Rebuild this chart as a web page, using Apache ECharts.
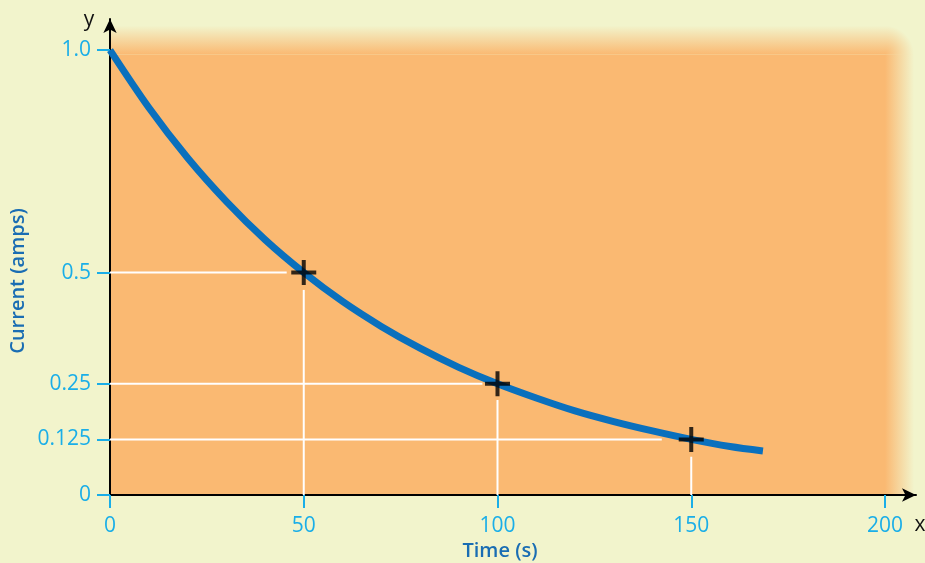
<!DOCTYPE html>
<html>
<head>
<meta charset="utf-8">
<title>Current decay</title>
<script src="https://cdn.jsdelivr.net/npm/echarts@6/dist/echarts.min.js"></script>
<style>
  html, body { margin: 0; padding: 0; background: #f2f4cc; }
  #chart { width: 925px; height: 563px; }
</style>
</head>
<body>
<div id="chart"></div>
<script>
// Discharge current over time (halves every 50 s)
const timeSec = [0, 10, 20, 30, 40, 50, 60, 70, 80, 90, 100, 110, 120, 130, 140, 150, 160, 168.5];
const currentAmps = [1.0, 0.871, 0.758, 0.66, 0.574, 0.5, 0.435, 0.379, 0.33, 0.287, 0.25, 0.218, 0.189, 0.165, 0.144, 0.125, 0.109, 0.099];

// Half-life markers
const markTime = [50, 100, 150];
const markCurrent = [0.5, 0.25, 0.125];
// Where the white guides stop short of each marker
const guideXEnd = [45.6, 96.1, 142.4];
const guideYStart = [0.461, 0.2135, 0.086];

// Axis ticks
const xTicks = [0, 50, 100, 150, 200];
const yTicks = [0, 0.125, 0.25, 0.5, 1.0];
const yTickLabels = ['0', '0.125', '0.25', '0.5', '1.0'];

const BG = '#f2f4cc';
const ORANGE = '#fab972';
const ORANGE_CLEAR = 'rgba(250,185,114,0)';
const TICK_BLUE = '#1aaee8';
const NAME_BLUE = '#1a6db3';
const CURVE_BLUE = '#0a70bd';
const FONT = '"Open Sans", "Noto Sans", sans-serif';

const chart = echarts.init(document.getElementById('chart'), null, { renderer: 'canvas' });

const guideStyle = { color: '#ffffff', width: 2 };
const guideSeries = [];
markTime.forEach((t, i) => {
  guideSeries.push({
    type: 'line', z: 4, silent: true, symbol: 'none',
    lineStyle: guideStyle,
    data: [[0, markCurrent[i]], [guideXEnd[i], markCurrent[i]]]
  });
  guideSeries.push({
    type: 'line', z: 4, silent: true, symbol: 'none',
    lineStyle: guideStyle,
    data: [[t, 0], [t, guideYStart[i]]]
  });
});

const option = {
  backgroundColor: BG,
  animation: false,
  grid: { left: 110, right: 9, top: 19, bottom: 68, containLabel: false },
  xAxis: {
    type: 'value', min: 0, max: 208, z: 3,
    axisLine: {
      show: true, onZero: false,
      symbol: ['none', 'arrow'], symbolSize: [10, 14],
      lineStyle: { color: '#000', width: 2 }
    },
    axisTick: { show: true, length: 13, customValues: xTicks, lineStyle: { color: TICK_BLUE, width: 2 } },
    axisLabel: {
      customValues: xTicks, margin: 21,
      color: TICK_BLUE, fontFamily: FONT, fontSize: 21
    },
    splitLine: { show: false }
  },
  yAxis: {
    type: 'value', min: 0, max: 1.07, z: 3,
    axisLine: {
      show: true, onZero: false,
      symbol: ['none', 'arrow'], symbolSize: [10, 14],
      lineStyle: { color: '#000', width: 2 }
    },
    axisTick: { show: true, length: 13, customValues: yTicks, lineStyle: { color: TICK_BLUE, width: 2 } },
    axisLabel: {
      customValues: yTicks, margin: 19,
      color: TICK_BLUE, fontFamily: FONT, fontSize: 21,
      formatter: v => {
        const k = yTicks.indexOf(v);
        return k >= 0 ? yTickLabels[k] : '';
      }
    },
    splitLine: { show: false }
  },
  series: [
    // Orange panel with soft top and right edges
    {
      type: 'line', z: 1, silent: true, symbol: 'none',
      lineStyle: { opacity: 0 },
      data: [[0, 0]],
      markArea: {
        silent: true,
        label: { show: false },
        data: [
          [{ xAxis: 0, yAxis: 0, itemStyle: { color: ORANGE } }, { xAxis: 200, yAxis: 0.99 }],
          [{ xAxis: 0, yAxis: 0.99, itemStyle: { color: {
              type: 'linear', x: 0, y: 0, x2: 0, y2: 1,
              colorStops: [{ offset: 0, color: ORANGE_CLEAR }, { offset: 1, color: ORANGE }] } } },
           { xAxis: 200, yAxis: 1.055 }],
          [{ xAxis: 200, yAxis: 0, itemStyle: { color: {
              type: 'linear', x: 0, y: 0, x2: 1, y2: 0,
              colorStops: [{ offset: 0, color: ORANGE }, { offset: 1, color: ORANGE_CLEAR }] } } },
           { xAxis: 207.5, yAxis: 0.99 }],
          [{ xAxis: 200, yAxis: 0.99, itemStyle: { color: {
              type: 'radial', x: 0, y: 1, r: 1,
              colorStops: [{ offset: 0, color: ORANGE }, { offset: 1, color: ORANGE_CLEAR }] } } },
           { xAxis: 207.5, yAxis: 1.055 }]
        ]
      }
    },
    ...guideSeries,
    // Decay curve
    {
      type: 'line', z: 5, silent: true, symbol: 'none', smooth: 0.3,
      lineStyle: { color: CURVE_BLUE, width: 7, cap: 'butt' },
      data: timeSec.map((t, i) => [t, currentAmps[i]])
    },
    // Half-life crosses
    {
      type: 'scatter', z: 6, silent: true,
      symbol: 'path://M10.5,0h4v10.5h10.5v4h-10.5v10.5h-4v-10.5h-10.5v-4h10.5z',
      symbolSize: 25,
      itemStyle: { color: '#000' },
      data: markTime.map((t, i) => [t, markCurrent[i]])
    }
  ],
  graphic: [
    { type: 'text', x: 89, y: 20, z: 10, style: { text: 'y', fill: '#111', font: '21px ' + FONT, align: 'center', verticalAlign: 'middle' } },
    { type: 'text', x: 920, y: 525, z: 10, style: { text: 'x', fill: '#111', font: '21px ' + FONT, align: 'center', verticalAlign: 'middle' } },
    { type: 'text', x: 500, y: 551, z: 10, style: { text: 'Time (s)', fill: NAME_BLUE, font: '600 20px ' + FONT, align: 'center', verticalAlign: 'middle' } },
    { type: 'text', x: 18, y: 281, rotation: Math.PI / 2, z: 10, style: { text: 'Current (amps)', fill: NAME_BLUE, font: '600 20px ' + FONT, align: 'center', verticalAlign: 'middle' } }
  ]
};

chart.setOption(option);
</script>
</body>
</html>
